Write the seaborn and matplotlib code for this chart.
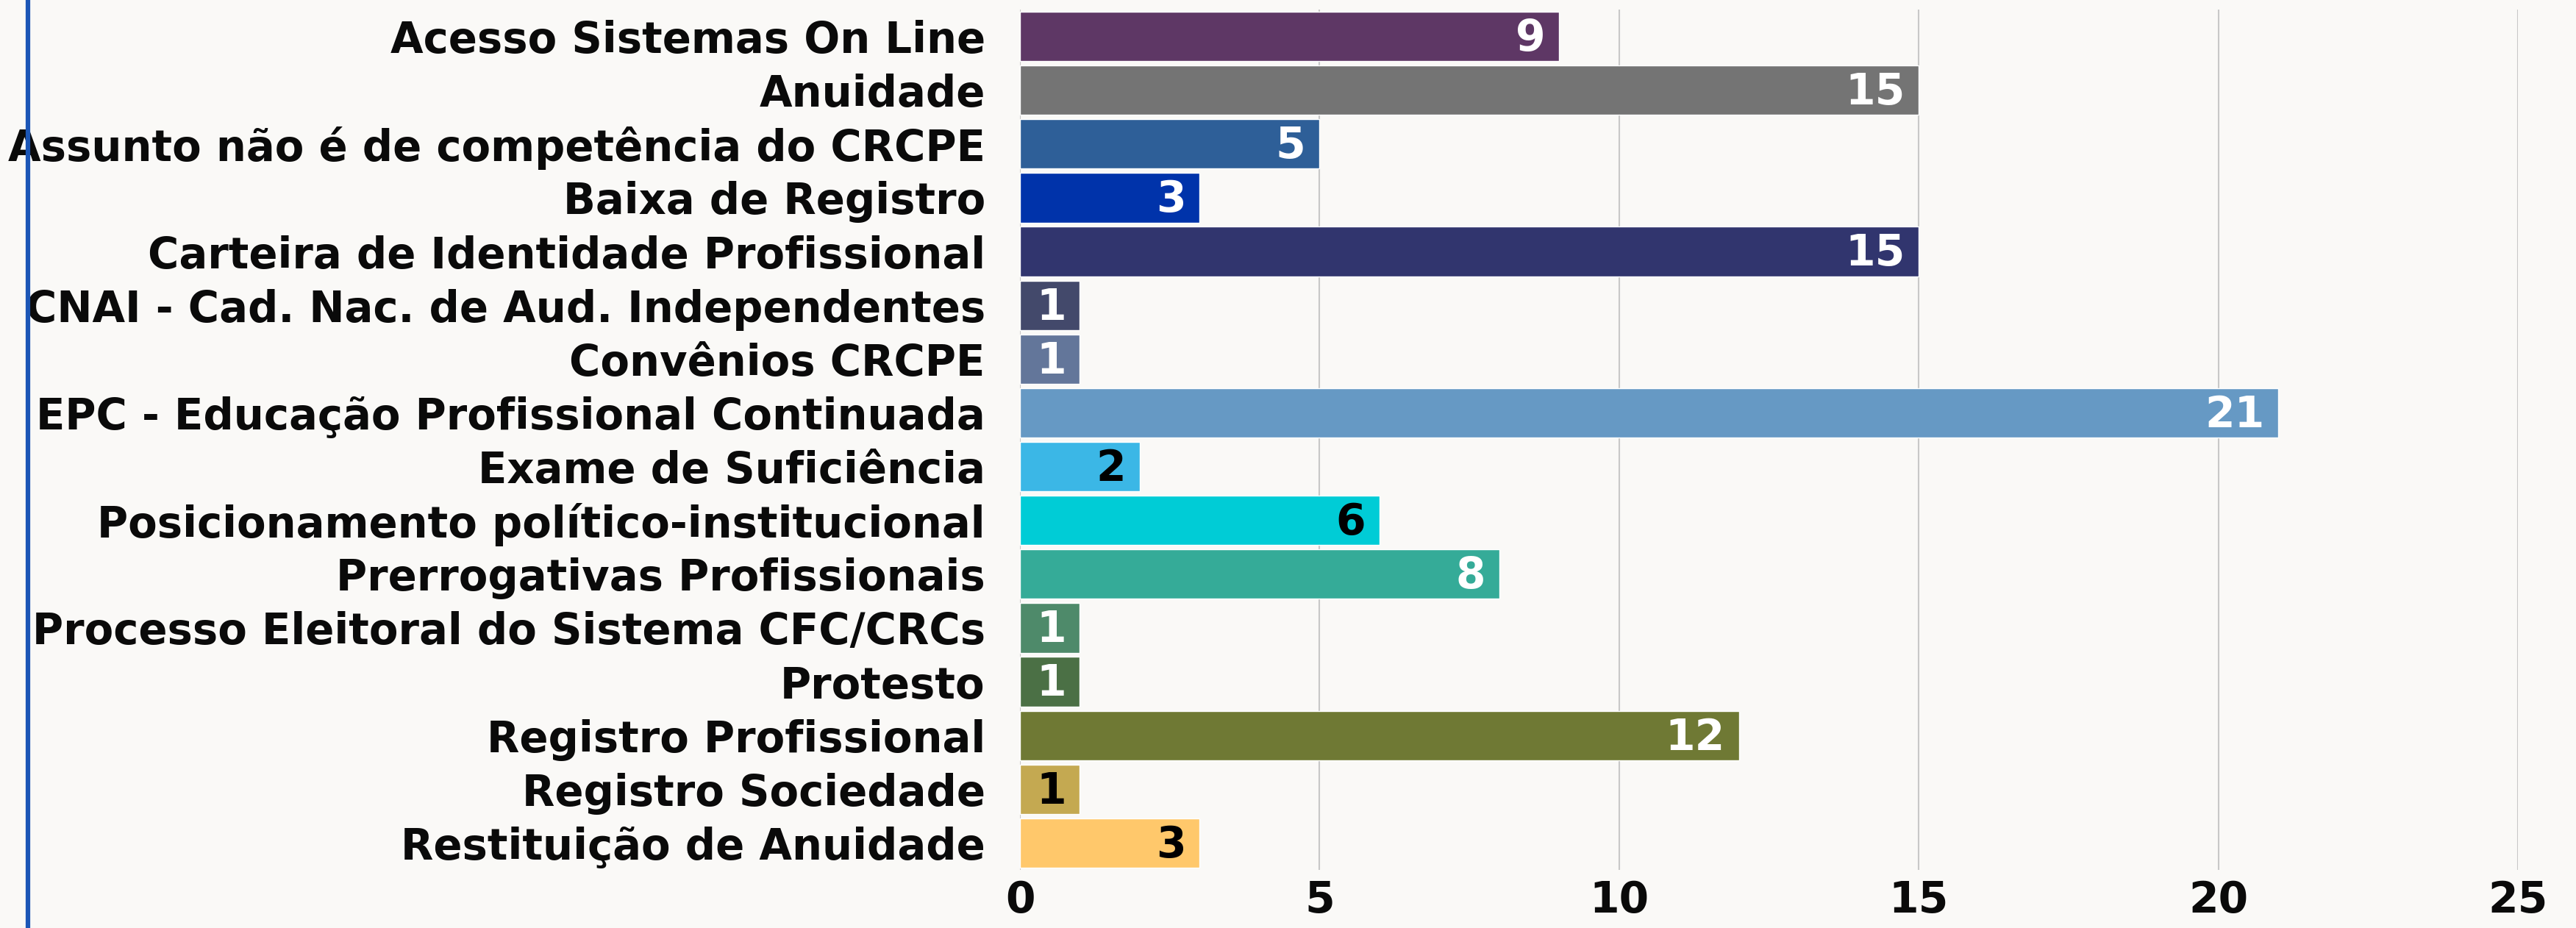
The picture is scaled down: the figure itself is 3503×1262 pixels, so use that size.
import pandas as pd
import numpy as np
import matplotlib
matplotlib.use('Agg')
import matplotlib.pyplot as plt
import seaborn as sns

# data
assuntos = ['Acesso Sistemas On Line', 'Anuidade', 'Assunto não é de competência do CRCPE',
            'Baixa de Registro', 'Carteira de Identidade Profissional',
            'CNAI - Cad. Nac. de Aud. Independentes', 'Convênios CRCPE',
            'EPC - Educação Profissional Continuada', 'Exame de Suficiência',
            'Posicionamento político-institucional', 'Prerrogativas Profissionais',
            'Processo Eleitoral do Sistema CFC/CRCs', 'Protesto', 'Registro Profissional',
            'Registro Sociedade', 'Restituição de Anuidade']
qtd = [9, 15, 5, 3, 15, 1, 1, 21, 2, 6, 8, 1, 1, 12, 1, 3]
cores = ['#5E3765', '#747474', '#2E5F98', '#0033AA', '#31356E', '#43496B', '#63769A',
         '#6699C4', '#3BB7E6', '#00CCD6', '#35AB98', '#4E8A6A', '#4B7045', '#6F7934',
         '#C4A951', '#FFC86B']
cor_rotulo = ['white', 'white', 'white', 'white', 'white', 'white', 'white', 'white',
              'black', 'black', 'white', 'white', 'white', 'white', 'black', 'black']
xticks = [0, 5, 10, 15, 20, 25]

df = pd.DataFrame({'Assunto': assuntos, 'Qtd': qtd})

bg = '#FAF9F7'
sns.set_style('white')
plt.rcParams['font.family'] = ['DejaVu Sans']

fig = plt.figure(figsize=(35.03, 12.62), dpi=100, facecolor=bg)
ax = fig.add_axes([1387/3503, 1 - 1183/1262, (3424 - 1387)/3503, (1183 - 13)/1262])
ax.set_facecolor(bg)

sns.barplot(data=df, y='Assunto', x='Qtd', hue='Assunto', palette=cores, order=assuntos,
            hue_order=assuntos, orient='h', width=0.92, legend=False, saturation=1, ax=ax)

for i, (v, c) in enumerate(zip(qtd, cor_rotulo)):
    ax.text(v - 0.23, i + 0.04, str(v), ha='right', va='center', color=c,
            fontsize=42, fontweight='bold')

ax.set_xlim(0, 25)
ax.set_ylim(15.5, -0.5)
ax.set_xticks(xticks)
ax.xaxis.grid(True, color='#C8C8C8', linewidth=1.5)
ax.set_axisbelow(True)
for s in ax.spines.values():
    s.set_visible(False)
ax.tick_params(axis='y', length=0, pad=34, labelsize=41.5)
ax.tick_params(axis='x', length=0, pad=9, labelsize=42)
for t in ax.get_yticklabels() + ax.get_xticklabels():
    t.set_fontweight('bold')
    t.set_color('#0A0A0A')
ax.set_xlabel('')
ax.set_ylabel('')

# blue line on the left edge
fig.add_artist(plt.Line2D([38/3503, 38/3503], [0, 1], color='#1C56B6', linewidth=4.5))

fig.savefig('out.png', dpi=100, facecolor=bg)
